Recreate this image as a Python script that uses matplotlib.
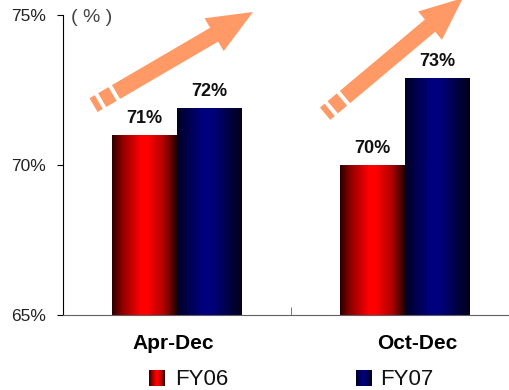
import numpy as np
import matplotlib
matplotlib.use("Agg")
import matplotlib.pyplot as plt
from matplotlib.colors import LinearSegmentedColormap
from matplotlib.patches import FancyArrow
from matplotlib.lines import Line2D
from matplotlib.transforms import Affine2D, ScaledTranslation

categories = ["Apr-Dec", "Oct-Dec"]
series_names = ["FY06", "FY07"]
fy06 = [71.0, 70.0]
fy07 = [71.9, 72.9]
fy06_labels = ["71%", "70%"]
fy07_labels = ["72%", "73%"]
y_ticks = [65, 70, 75]
y_tick_labels = ["65%", "70%", "75%"]

plt.rcParams["font.family"] = ["Liberation Sans", "DejaVu Sans"]

RED_CMAP = LinearSegmentedColormap.from_list(
    "redbar", [(0.0, "#2a0000"), (0.15, "#8a0000"), (0.45, "#ff0000"),
               (0.55, "#ff0000"), (0.8, "#b00000"), (1.0, "#220000")])
BLUE_CMAP = LinearSegmentedColormap.from_list(
    "bluebar", [(0.0, "#000025"), (0.4, "#000080"), (0.55, "#00007a"),
                (1.0, "#000018")])
ARROW_COLOR = "#ff9966"

W, H = 510, 390
fig = plt.figure(figsize=(W / 100, H / 100), dpi=100)
ax = fig.add_axes([63 / W, 75 / H, 456 / W, 300 / H])

x = np.arange(len(categories))
bw = 0.285
ymin, ymax = 65, 75


def gradient_bars(bars, cmap):
    grad = np.linspace(0, 1, 256).reshape(1, -1)
    for b in bars:
        im = ax.imshow(grad, cmap=cmap, aspect="auto", interpolation="bicubic",
                       extent=(b.get_x(), b.get_x() + b.get_width(), ymin, b.get_height()),
                       zorder=2)
        im.set_clip_path(b)


bars06 = ax.bar(x - bw / 2, fy06, bw, color="none", edgecolor="none", zorder=1)
bars07 = ax.bar(x + bw / 2, fy07, bw, color="none", edgecolor="none", zorder=1)
gradient_bars(bars06, RED_CMAP)
gradient_bars(bars07, BLUE_CMAP)

for bars, labels in ((bars06, fy06_labels), (bars07, fy07_labels)):
    for b, lab in zip(bars, labels):
        ax.annotate(lab, (b.get_x() + b.get_width() / 2, b.get_height()),
                    xytext=(0, 6), textcoords="offset points", ha="center",
                    va="bottom", fontsize=13, fontweight="bold", color="#111111")

ax.set_xlim(-0.5, 1.5)
ax.set_ylim(ymin, ymax)
ax.set_yticks(y_ticks, y_tick_labels)
ax.set_xticks(x, categories)
ax.set_xticks([0.5], minor=True)
ax.tick_params(axis="y", direction="out", length=4, pad=8, labelsize=12.5,
               labelcolor="#222222")
ax.tick_params(axis="x", which="major", length=0, pad=14, labelsize=15)
ax.tick_params(axis="x", which="minor", direction="in", length=6, color="#606060")
for lab, shift in zip(ax.get_xticklabels(), (-4, 12)):
    lab.set_fontweight("bold")
    lab.set_transform(lab.get_transform() + ScaledTranslation(shift / 100, 0, fig.dpi_scale_trans))
ax.spines["top"].set_visible(False)
ax.spines["right"].set_visible(False)
ax.spines["left"].set_color("black")
ax.spines["bottom"].set_color("#606060")
ax.text(71 / W, 1 - 22 / H, "( % )", transform=fig.transFigure, fontsize=14,
        color="#444444", va="baseline")

# decorative arrows in image-pixel coordinates (y down)
pix = Affine2D().scale(1 / W, -1 / H).translate(0, 1) + fig.transFigure


def trend_arrow(tail, tip, width, head_w, head_l):
    tail, tip = np.array(tail, float), np.array(tip, float)
    v = tip - tail
    L = np.hypot(*v)
    u = v / L
    fig.patches.append(FancyArrow(tail[0], tail[1], v[0], v[1], width=width,
                                  head_width=head_w, head_length=head_l,
                                  length_includes_head=True, color=ARROW_COLOR,
                                  lw=0, transform=pix))
    lw_pt = width * 72 / 100
    for d0, d1 in ((4, 16), (20, 26)):
        p0, p1 = tail - u * d0, tail - u * d1
        fig.lines.append(Line2D([p0[0], p1[0]], [p0[1], p1[1]], lw=lw_pt,
                                color=ARROW_COLOR, solid_capstyle="butt",
                                transform=pix))


trend_arrow((116, 92), (253, 12), 16, 38, 45)
trend_arrow((345, 97), (463, -2), 16, 37, 43)

# legend
legend_pos = [(149, 175), (356, 380)]
for (mx, tx), name, cmap in zip(legend_pos, series_names, (RED_CMAP, BLUE_CMAP)):
    lax = fig.add_axes([mx / W, 4 / H, 16 / W, 16 / H])
    lax.imshow(np.linspace(0, 1, 64).reshape(1, -1), cmap=cmap, aspect="auto")
    lax.axis("off")
    fig.text(tx / W, 5 / H, name, fontsize=16, color="#111111", va="baseline")

fig.savefig("out.png", dpi=100)
